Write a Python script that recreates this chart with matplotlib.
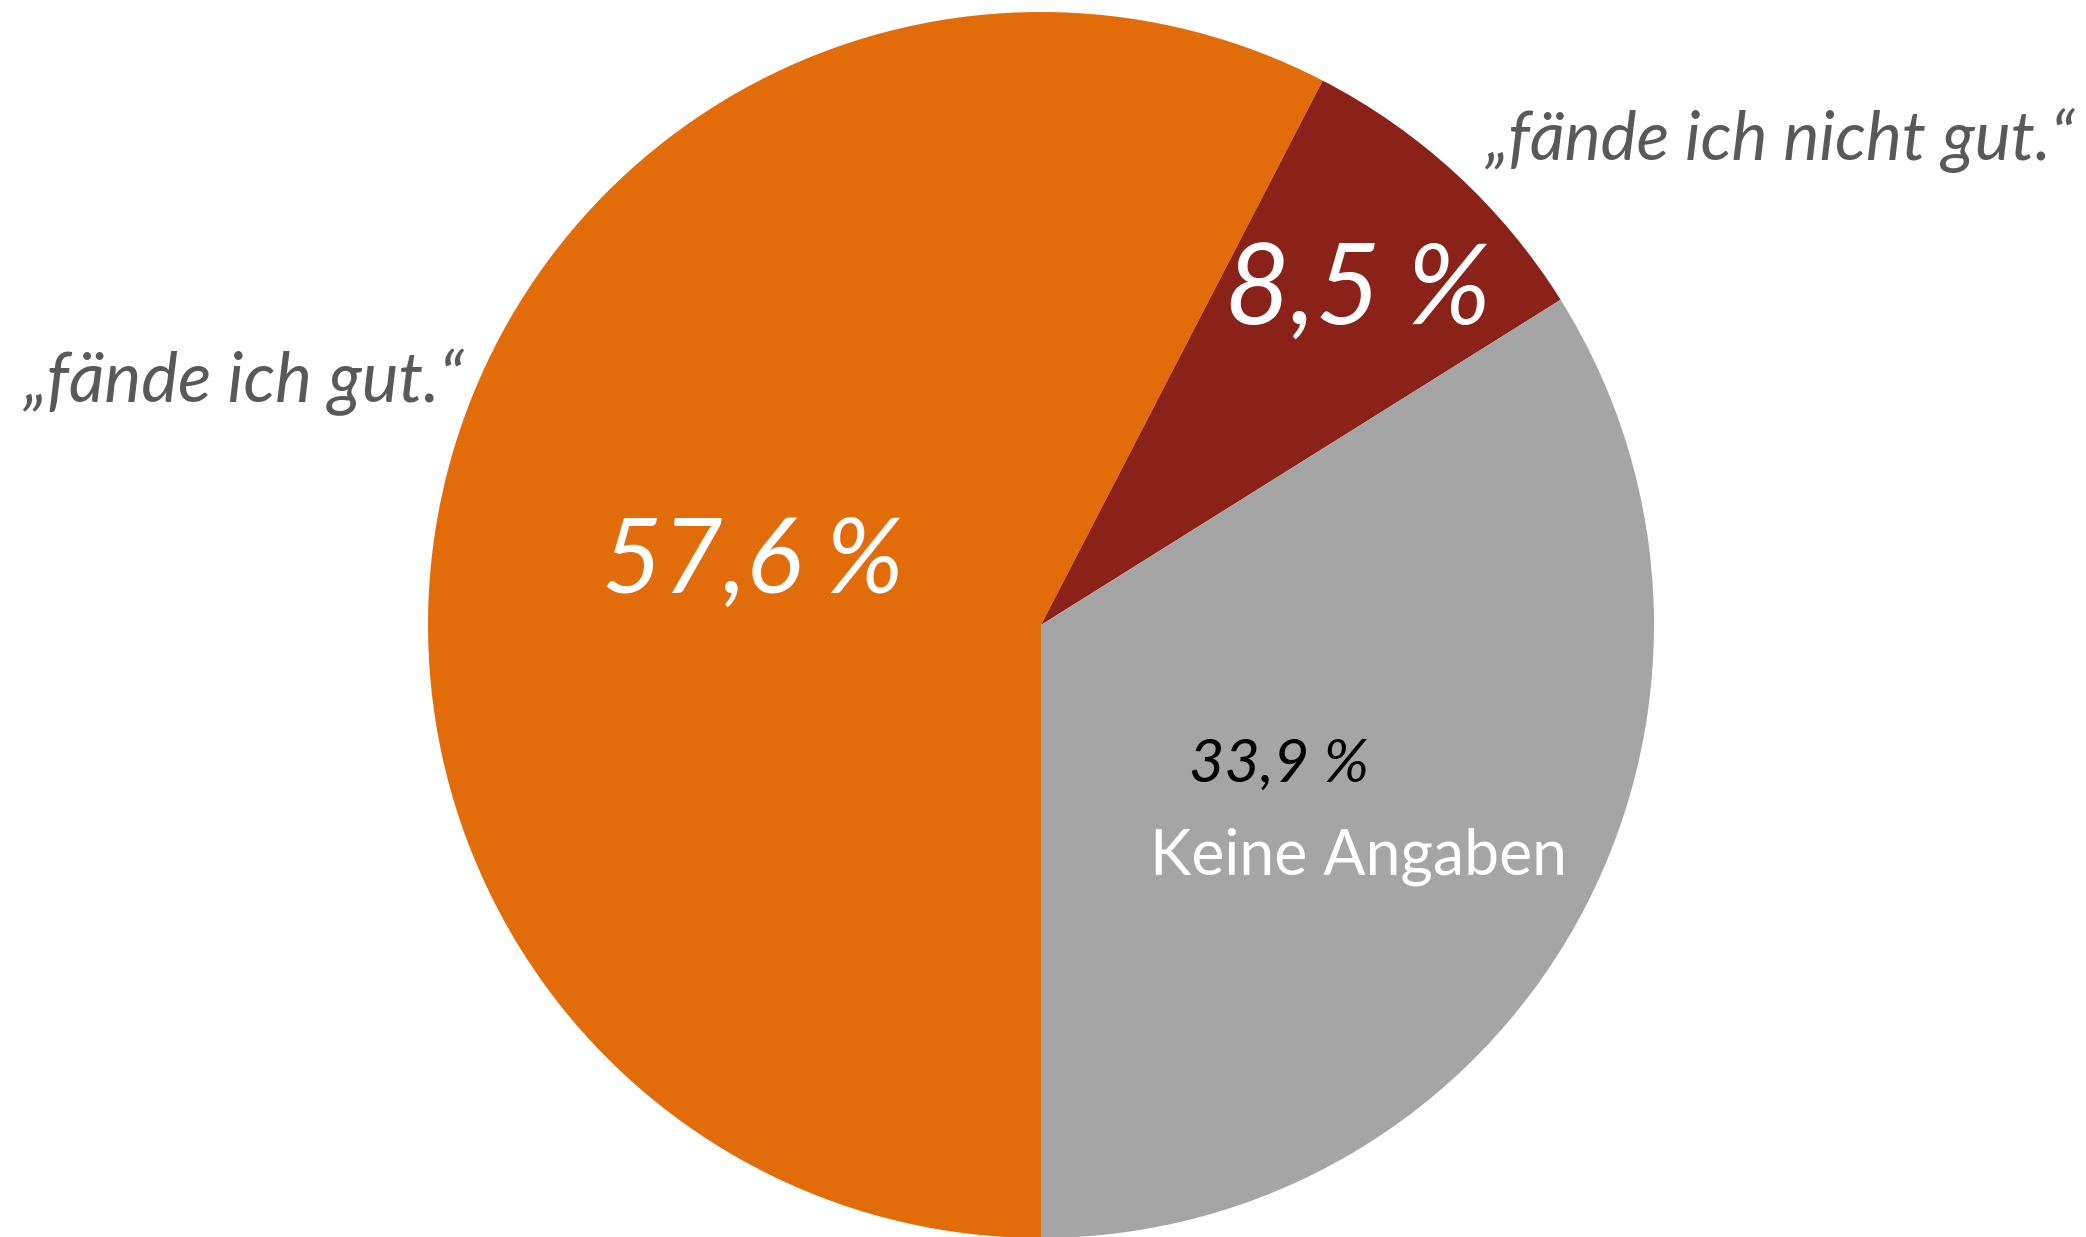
import matplotlib.pyplot as plt

# data
labels = ["\u201efände ich gut.\u201c", "\u201efände ich nicht gut.\u201c", "Keine Angaben"]
shares = [57.6, 8.5, 33.9]
colors = ["#E36C0A", "#8B2219", "#A5A5A5"]

W, H = 2086, 1237
fig = plt.figure(figsize=(W / 100, H / 100), dpi=100)
ax = fig.add_axes([0, 0, 1, 1])

ax.pie(shares, colors=colors, startangle=270, counterclock=False,
       center=(1041, H - 625), radius=613,
       wedgeprops=dict(linewidth=0))
ax.set_xlim(0, W)
ax.set_ylim(0, H)
ax.set_aspect('equal')
ax.axis('off')

font = 'Lato'
grey = '#595959'


def pct(v):
    return "{:.1f} %".format(v).replace('.', ',')


# category labels outside the pie
ax.text(24, H - 402, labels[0], fontsize=50, style='italic', color=grey,
        family=font, ha='left', va='baseline')
ax.text(2075, H - 160, labels[1], fontsize=49, style='italic', color=grey,
        family=font, ha='right', va='baseline')

# values inside
ax.text(753, H - 593, pct(shares[0]), fontsize=75, style='italic',
        color='white', family=font, ha='center', va='baseline')
ax.text(1358, H - 325, pct(shares[1]), fontsize=81, style='italic',
        color='white', family=font, ha='center', va='baseline')
ax.text(1279, H - 782, pct(shares[2]), fontsize=44, style='italic',
        color='black', family=font, ha='center', va='baseline')
ax.text(1358, H - 875, labels[2], fontsize=45, color='white',
        family=font, ha='center', va='baseline')

fig.savefig('out.png', dpi=100)
